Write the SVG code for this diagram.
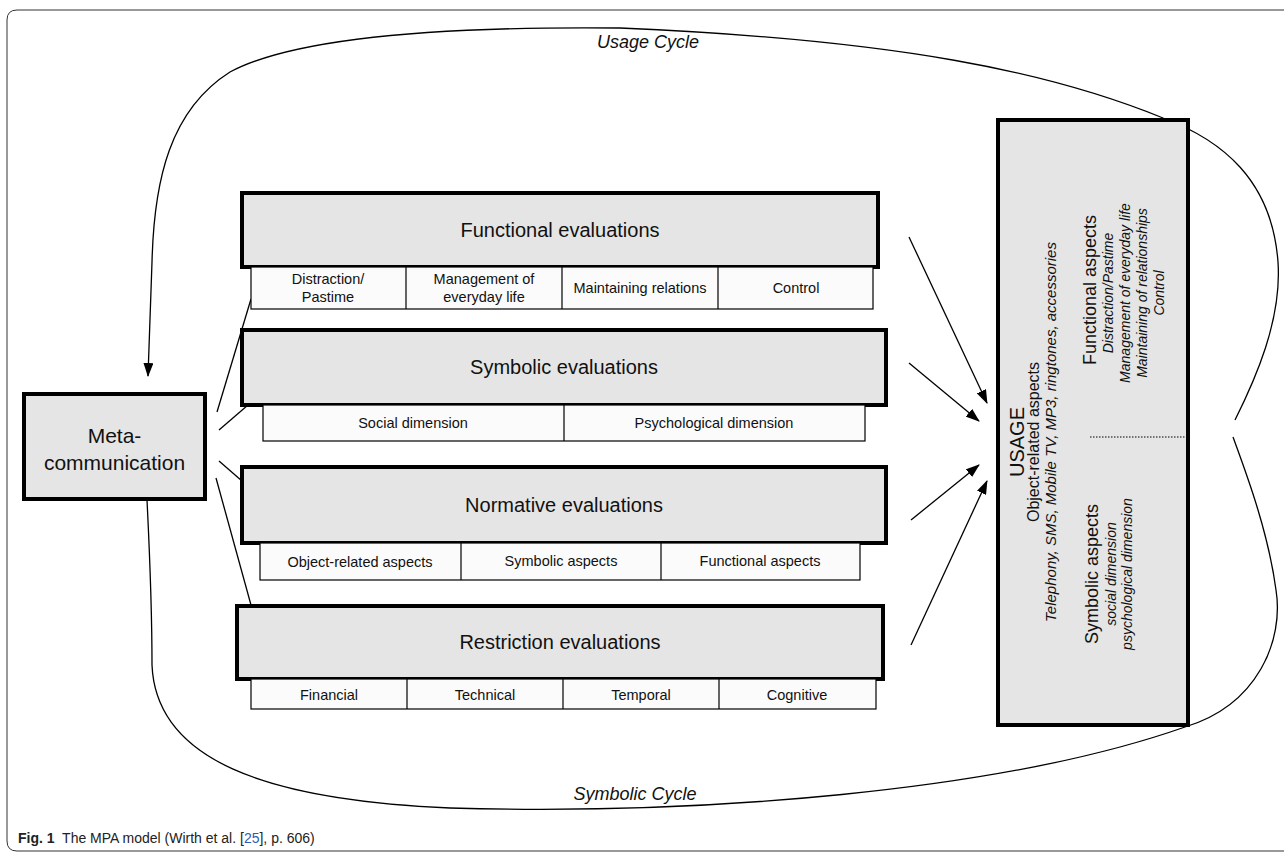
<svg xmlns="http://www.w3.org/2000/svg" width="1284" height="854" viewBox="0 0 1284 854">
<style>
.hdr{fill:#e5e5e5;stroke:#000;stroke-width:4}
.sub{fill:#fbfbfb;stroke:#000;stroke-width:1.2}
.div{stroke:#000;stroke-width:1.2}
.ln{fill:none;stroke:#000;stroke-width:1.3}
.t{font-family:"Liberation Sans",Arial,sans-serif;fill:#111}
.h{font-size:20px;text-anchor:middle}
.s{font-size:14.5px;text-anchor:middle}
.c{font-size:18px;font-style:italic;text-anchor:middle}
.u{text-anchor:middle}
.i{font-style:italic}
.cap{font-family:"Liberation Sans",Arial,sans-serif;font-size:14px;fill:#222}
</style>
<defs>
<marker id="ah" viewBox="0 0 14 10" refX="13" refY="5" markerWidth="14" markerHeight="10" markerUnits="userSpaceOnUse" orient="auto">
<path d="M0,0 L14,5 L0,10 Z" fill="#000"/>
</marker>
</defs>
<rect width="1284" height="854" fill="#fff"/>
<path d="M1290 10 H17 Q7 10 7 20 V841 Q7 851 17 851 H1290" fill="none" stroke="#333" stroke-width="1"/>

<g id="connectors">
<path class="ln" d="M1235 420 C1255 380,1282 320,1278 262 C1272 180,1222 140,1163 118 C1050 72,900 40,620 28 C420 26,290 40,230 72 C170 110,154 180,152 262 L148 376" marker-end="url(#ah)"/>
<path class="ln" d="M147 500 C150 560,152 620,152 665 C156 760,265 800,450 808 C700 815,1000 792,1185 727 C1258 705,1284 640,1276 590 C1268 530,1245 470,1233 437"/>
<line class="ln" x1="217" y1="412" x2="251" y2="299"/>
<line class="ln" x1="219" y1="430" x2="248" y2="405"/>
<line class="ln" x1="219" y1="461" x2="242" y2="481"/>
<line class="ln" x1="216" y1="478" x2="251" y2="605"/>
<line class="ln" x1="909" y1="237" x2="987" y2="403" marker-end="url(#ah)"/>
<line class="ln" x1="909" y1="363" x2="979" y2="421" marker-end="url(#ah)"/>
<line class="ln" x1="911" y1="520" x2="979" y2="465" marker-end="url(#ah)"/>
<line class="ln" x1="911" y1="645" x2="987" y2="481" marker-end="url(#ah)"/>
</g>

<g id="meta">
<rect class="hdr" x="24" y="394" width="181" height="105"/>
<text class="t h" x="114.5" y="443" style="font-size:21px">Meta-</text>
<text class="t h" x="114.5" y="470" style="font-size:21px">communication</text>
</g>

<g id="functional">
<rect class="hdr" x="242" y="193" width="636" height="74"/>
<text class="t h" x="560" y="237">Functional evaluations</text>
<rect class="sub" x="251" y="267" width="622" height="42"/>
<line class="div" x1="406" y1="267" x2="406" y2="309"/>
<line class="div" x1="562" y1="267" x2="562" y2="309"/>
<line class="div" x1="718" y1="267" x2="718" y2="309"/>
<text class="t s" x="328" y="284">Distraction/</text>
<text class="t s" x="328" y="302">Pastime</text>
<text class="t s" x="484" y="284">Management of</text>
<text class="t s" x="484" y="302">everyday life</text>
<text class="t s" x="640" y="293">Maintaining relations</text>
<text class="t s" x="796" y="293">Control</text>
</g>

<g id="symbolic">
<rect class="hdr" x="242" y="330" width="644" height="75"/>
<text class="t h" x="564" y="374">Symbolic evaluations</text>
<rect class="sub" x="263" y="405" width="602" height="36"/>
<line class="div" x1="564" y1="405" x2="564" y2="441"/>
<text class="t s" x="413" y="428">Social dimension</text>
<text class="t s" x="714" y="428">Psychological dimension</text>
</g>

<g id="normative">
<rect class="hdr" x="242" y="467" width="644" height="76"/>
<text class="t h" x="564" y="512">Normative evaluations</text>
<rect class="sub" x="260" y="543" width="600" height="37"/>
<line class="div" x1="461" y1="543" x2="461" y2="580"/>
<line class="div" x1="661" y1="543" x2="661" y2="580"/>
<text class="t s" x="360" y="567">Object-related aspects</text>
<text class="t s" x="561" y="566">Symbolic aspects</text>
<text class="t s" x="760" y="566">Functional aspects</text>
</g>

<g id="restriction">
<rect class="hdr" x="237" y="606" width="646" height="73"/>
<text class="t h" x="560" y="649">Restriction evaluations</text>
<rect class="sub" x="251" y="679" width="625" height="30"/>
<line class="div" x1="407" y1="679" x2="407" y2="709"/>
<line class="div" x1="563" y1="679" x2="563" y2="709"/>
<line class="div" x1="719" y1="679" x2="719" y2="709"/>
<text class="t s" x="329" y="700">Financial</text>
<text class="t s" x="485" y="700">Technical</text>
<text class="t s" x="641" y="700">Temporal</text>
<text class="t s" x="797" y="700">Cognitive</text>
</g>

<g id="usage">
<rect class="hdr" x="998" y="120" width="190" height="605"/>
<line x1="1090" y1="437" x2="1186" y2="437" stroke="#000" stroke-width="1" stroke-dasharray="1.5,1.5"/>
<text class="t u" transform="translate(1024,442) rotate(-90)" style="font-size:20px">USAGE</text>
<text class="t u" transform="translate(1039,442) rotate(-90)" style="font-size:16px">Object-related aspects</text>
<text class="t u i" transform="translate(1056,432) rotate(-90)" style="font-size:15px">Telephony, SMS, Mobile TV, MP3, ringtones, accessories</text>
<text class="t u" transform="translate(1096,290) rotate(-90)" style="font-size:18px">Functional aspects</text>
<text class="t u i" transform="translate(1113,293) rotate(-90)" style="font-size:14px">Distraction/Pastime</text>
<text class="t u i" transform="translate(1130,293) rotate(-90)" style="font-size:14px">Management of everyday life</text>
<text class="t u i" transform="translate(1147,293) rotate(-90)" style="font-size:14px">Maintaining of relationships</text>
<text class="t u i" transform="translate(1164,293) rotate(-90)" style="font-size:14px">Control</text>
<text class="t u" transform="translate(1098,574) rotate(-90)" style="font-size:18px">Symbolic aspects</text>
<text class="t u i" transform="translate(1116,574) rotate(-90)" style="font-size:14px">social dimension</text>
<text class="t u i" transform="translate(1132,574) rotate(-90)" style="font-size:14px">psychological dimension</text>
</g>

<text class="t c" x="648" y="48">Usage Cycle</text>
<text class="t c" x="635" y="800">Symbolic Cycle</text>
<text id="caption" class="cap" x="18" y="843" xml:space="preserve"><tspan font-weight="bold">Fig. 1</tspan>  The MPA model (Wirth et al. [<tspan style="fill:#2a5db0">25</tspan>], p. 606)</text>
</svg>
